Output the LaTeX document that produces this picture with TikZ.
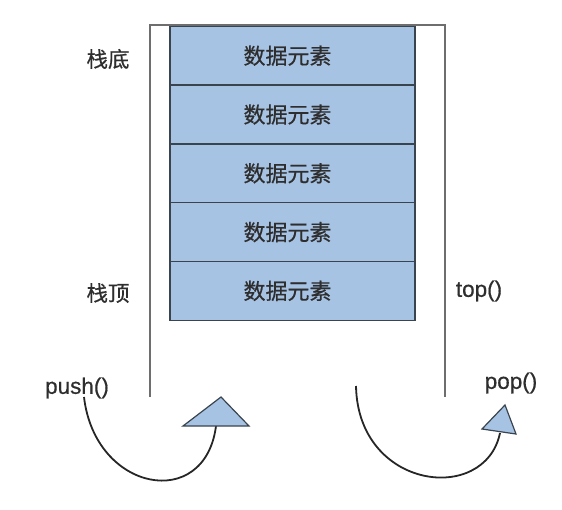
\documentclass[tikz,border=0pt]{standalone}
\usepackage{fontspec}
\setmainfont{Liberation Sans}[FakeBold=0.6]
\newfontfamily\cjk{Noto Sans CJK SC}[FakeBold=0.6]
\definecolor{boxfill}{HTML}{A7C3E3}
\definecolor{boxline}{HTML}{3A444E}
\definecolor{wall}{HTML}{6E6E6E}
\definecolor{txt}{HTML}{2E2E2E}
\tikzset{
  elem/.style={rectangle, draw=boxline, fill=boxfill, line width=1.4pt,
    minimum width=245pt, minimum height=58.8pt, inner sep=0pt,
    font=\cjk\fontsize{22}{26}\selectfont, text=txt},
  cjklabel/.style={font=\cjk\fontsize{21.5}{25}\selectfont, text=txt, inner sep=0pt},
  fnlabel/.style={font=\fontsize{22.5}{26}\selectfont, text=txt, inner sep=0pt},
  wallline/.style={draw=wall, line width=1.4pt},
  arc/.style={draw=black!85, line width=1.8pt},
  tri/.style={draw=boxline, fill=boxfill, line width=1.2pt, line join=miter}
}
\newcommand{\elemtext}{\hspace*{-10pt}数据元素}
\begin{document}
\begin{tikzpicture}[x=1pt,y=-1pt]
\useasboundingbox (0,0) rectangle (562,509);
% container walls
\coordinate (wl) at (150,397);
\coordinate (wtl) at (150,25);
\coordinate (wtr) at (445,25);
\coordinate (wr) at (445,397);
\draw[wallline] (wl) -- (wtl) -- (wtr) -- (wr);
% stack elements
\node[elem] (b1) at (292.5,55.7) {\elemtext};
\node[elem] (b2) at (292.5,114.5) {\elemtext};
\node[elem] (b3) at (292.5,173.3) {\elemtext};
\node[elem] (b4) at (292.5,232.1) {\elemtext};
\node[elem] (b5) at (292.5,290.9) {\elemtext};
% labels
\node[cjklabel] (bottom) at (108,59) {栈底};
\node[cjklabel] (topl) at (108,293) {栈顶};
\node[fnlabel] (topf) at (479,291) {top()};
\node[fnlabel] (push) at (77,388) {push()};
\node[fnlabel] (pop) at (511,383) {pop()};
% push arrow
\coordinate (ps) at (84,397);
\coordinate (pe) at (216,426);
\draw[arc] (ps) .. controls (95,492) and (205,512) .. (pe);
\coordinate (pt1) at (183,426);
\coordinate (pt2) at (249,426);
\coordinate (pt3) at (221,397);
\draw[tri] (pt1) -- (pt2) -- (pt3) -- cycle;
% pop arrow
\coordinate (os) at (356,386);
\coordinate (oe) at (500,433);
\draw[arc] (os) .. controls (358,490) and (485,505) .. (oe);
\coordinate (ot1) at (482,429);
\coordinate (ot2) at (516,434);
\coordinate (ot3) at (505,405);
\draw[tri] (ot1) -- (ot2) -- (ot3) -- cycle;
\end{tikzpicture}
\end{document}
